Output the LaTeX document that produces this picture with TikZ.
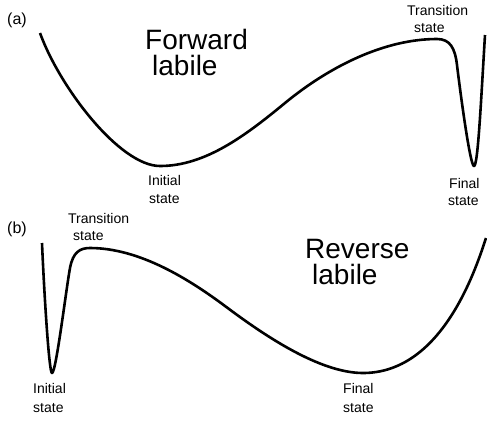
\documentclass[tikz,border=0pt]{standalone}
\usepackage{fontspec}
\setmainfont{Liberation Sans}
\begin{document}
\begin{tikzpicture}[x=1pt,y=-1pt,
  curve/.style={line width=2.6pt, line join=round},
  small/.style={inner sep=0, anchor=base west, font=\fontsize{14}{16}\selectfont},
  big/.style={inner sep=0, anchor=base west, align=left, font=\fontsize{28}{26}\selectfont},
  tag/.style={inner sep=0, anchor=base west, font=\fontsize{16}{18}\selectfont}]
\useasboundingbox (0,0) rectangle (487,424);

% ---------- (a) ----------
\node[tag] (taga) at (7,24) {(a)};
\draw[curve] (40,33) .. controls (60,88) and (120,166) .. (160,166)
  .. controls (205,166) and (245,136) .. (285,103)
  .. controls (330,66) and (385,39) .. (437,39)
  .. controls (450,39) and (455,48) .. (457,65)
  .. controls (460,90) and (470,166) .. (474,166)
  .. controls (478,166) and (481,100) .. (485,35);
\node[big] (fwd) at (145,75) {Forward\\\hspace{7pt}labile};
\node[small] (tsa1) at (407,15) {Transition};
\node[small] (tsa2) at (414,32) {state};
\node[small] (isa1) at (148,185) {Initial};
\node[small] (isa2) at (149,203) {state};
\node[small] (fsa1) at (449,188) {Final};
\node[small] (fsa2) at (448,205) {state};

% ---------- (b) ----------
\node[tag] (tagb) at (7,233) {(b)};
\draw[curve] (42,243) .. controls (44,290) and (49,373) .. (52,373)
  .. controls (56,373) and (66,290) .. (70,268)
  .. controls (73,252) and (80,248) .. (90,248)
  .. controls (140,248) and (190,280) .. (225,306)
  .. controls (265,336) and (320,373) .. (363,373)
  .. controls (440,373) and (474,275) .. (486,238);
\node[big] (rev) at (305,284) {Reverse\\\hspace{7pt}labile};
\node[small] (tsb1) at (68,223) {Transition};
\node[small] (tsb2) at (73,240) {state};
\node[small] (isb1) at (33,393) {Initial};
\node[small] (isb2) at (33,412) {state};
\node[small] (fsb1) at (343,393) {Final};
\node[small] (fsb2) at (343,412) {state};
\end{tikzpicture}
\end{document}
